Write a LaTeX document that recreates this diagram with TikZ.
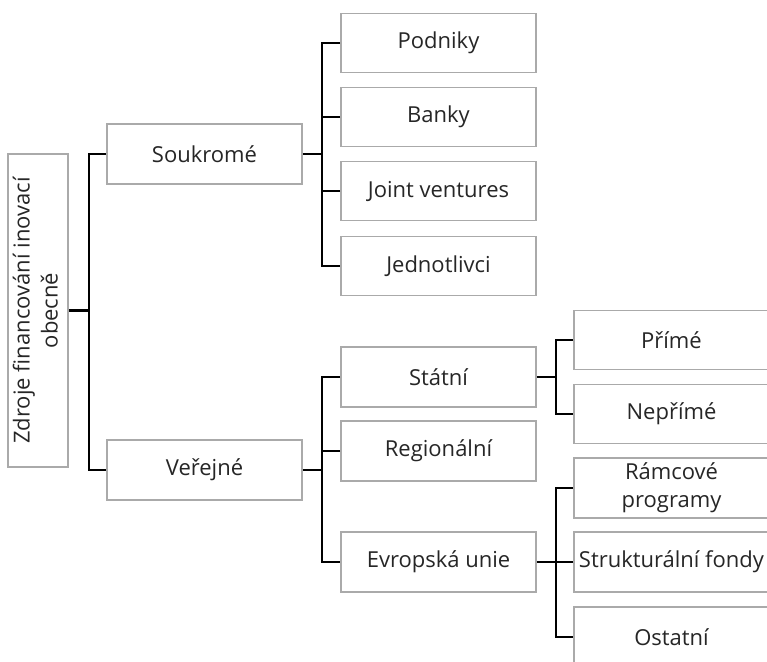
\documentclass[tikz,border=0pt]{standalone}
\usepackage{fontspec}
\setmainfont{Open Sans}
\usepackage{graphicx}
\definecolor{boxgray}{RGB}{170,170,170}
\definecolor{txtgray}{RGB}{38,38,38}
\tikzset{
  orgbox/.style={draw=boxgray, line width=1.8pt, fill=white, rectangle,
    minimum width=195pt, minimum height=59pt, inner xsep=1pt, inner ysep=0pt,
    text=txtgray, font=\fontsize{22}{28}\selectfont, align=center},
  link/.style={draw=black, line width=2.6pt}
}
\begin{document}
\begin{tikzpicture}[x=1pt,y=-1pt]
\useasboundingbox (0,0) rectangle (767,661);
\clip (0,0) rectangle (767,661);
\fill[white] (0,0) rectangle (767,661);

% level 0
\node[orgbox, minimum width=60pt, minimum height=313pt, inner sep=0pt] (root) at (38,310.5)
  {\rotatebox{90}{\begin{tabular}{@{}c@{}}Zdroje financování inovací\\obecně\end{tabular}}};

% level 1
\node[orgbox, minimum height=60pt] (souk) at (204.5,154) {Soukromé};
\node[orgbox, minimum height=60pt] (ver)  at (204.5,470) {Veřejné};

% level 2 (private)
\node[orgbox] (podn) at (438.5,43)  {Podniky};
\node[orgbox] (bank) at (438.5,117) {Banky};
\node[orgbox] (joint) at (438.5,191) {Joint ventures};
\node[orgbox] (jedn) at (438.5,266) {Jednotlivci};

% level 2 (public)
\node[orgbox, minimum height=60pt] (stat) at (438.5,377) {Státní};
\node[orgbox, minimum height=60pt] (reg)  at (438.5,451) {Regionální};
\node[orgbox, minimum height=60pt] (eu)   at (438.5,562) {Evropská unie};

% level 3
\node[orgbox] (prime) at (671.5,340) {Přímé};
\node[orgbox] (neprime) at (671.5,414) {Nepřímé};
\node[orgbox, minimum height=60pt] (ramc) at (671.5,488) {Rámcové\\programy};
\node[orgbox, minimum height=60pt] (strk) at (671.5,562) {Strukturální fondy};
\node[orgbox, minimum height=60pt] (ost) at (671.5,637) {Ostatní};

% connectors
\draw[link] (root.east) -- ++(20,0) coordinate (b0);
\draw[link] (souk.west) -| (b0) |- (ver.west);

\draw[link] (souk.east) -- ++(19,0) coordinate (b1);
\draw[link] (podn.west) -| (b1) |- (jedn.west);
\draw[link] (bank.west) -- (bank.west -| b1);
\draw[link] (joint.west) -- (joint.west -| b1);

\draw[link] (ver.east) -- ++(19,0) coordinate (b2);
\draw[link] (stat.west) -| (b2) |- (eu.west);
\draw[link] (reg.west) -- (reg.west -| b2);

\draw[link] (stat.east) -- ++(19,0) coordinate (b3);
\draw[link] (prime.west) -| (b3) |- (neprime.west);

\draw[link] (eu.east) -- ++(19,0) coordinate (b4);
\draw[link] (ramc.west) -| (b4) |- (ost.west);
\draw[link] (strk.west) -- (strk.west -| b4);
\end{tikzpicture}
\end{document}
